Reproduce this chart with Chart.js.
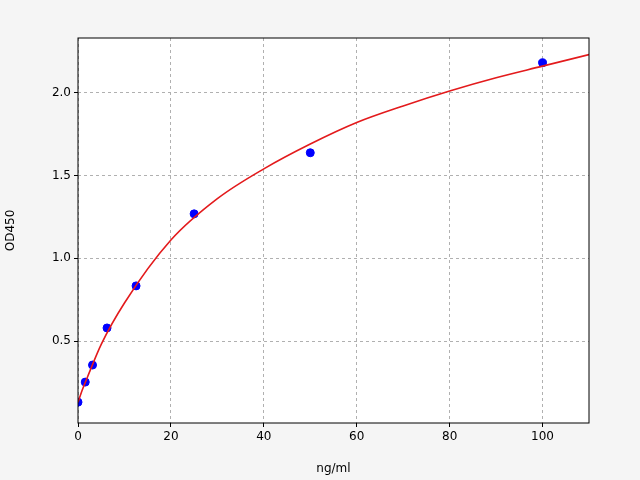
<!DOCTYPE html>
<html>
<head>
<meta charset="utf-8">
<style>
  *{margin:0;padding:0}
  html,body{width:640px;height:480px;background:#f5f5f5}
</style>
</head>
<body>
<canvas id="chart" width="640" height="480"></canvas>
<script src="https://cdn.jsdelivr.net/npm/chart.js@4/dist/chart.umd.min.js"></script>
<script>
// measured standards
const concX = [0, 1.56, 3.125, 6.25, 12.5, 25, 50, 100];
const odY = [0.131, 0.252, 0.355, 0.579, 0.833, 1.268, 1.637, 2.18];
// fitted curve
const curveX = [0, 1, 2, 5, 10, 20, 30, 40, 50, 60, 70, 80, 90, 100, 110];
const curveY = [0.13, 0.21, 0.28, 0.48, 0.73, 1.11, 1.36, 1.54, 1.69, 1.82, 1.92, 2.01, 2.09, 2.16, 2.23];
const xTicks = [0, 20, 40, 60, 80, 100];
const yTicks = [0.5, 1.0, 1.5, 2.0];

const toXY = (xs, ys) => xs.map((x, i) => ({ x, y: ys[i] }));

const plotBg = {
  id: "plotBg",
  beforeDraw(c) {
    const { ctx, chartArea: a } = c;
    ctx.save();
    ctx.fillStyle = "#f5f5f5";
    ctx.fillRect(0, 0, c.width, c.height);
    ctx.fillStyle = "#ffffff";
    ctx.fillRect(a.left, a.top, a.right - a.left, a.bottom - a.top);
    ctx.restore();
  },
  afterDraw(c) {
    const { ctx, chartArea: a } = c;
    ctx.save();
    ctx.strokeStyle = "#000";
    ctx.lineWidth = 1;
    ctx.strokeRect(a.left, a.top, a.right - a.left, a.bottom - a.top);
    ctx.restore();
  }
};

const grid = { color: "#b0b0b0", tickColor: "#000", tickLength: 4, drawTicks: true };
const border = { display: false, dash: [3, 3] };
const font = { family: "'DejaVu Sans', sans-serif", size: 12 };

new Chart(document.getElementById("chart"), {
  type: "scatter",
  data: {
    datasets: [
      {
        type: "line",
        data: toXY(curveX, curveY),
        borderColor: "#e31a1c",
        borderWidth: 1.6,
        pointRadius: 0,
        cubicInterpolationMode: "monotone",
        fill: false
      },
      {
        data: toXY(concX, odY),
        backgroundColor: "#0000ff",
        borderColor: "#0000ff",
        pointRadius: 4
      }
    ]
  },
  options: {
    responsive: false,
    animation: false,
    devicePixelRatio: 1,
    layout: { padding: { top: 38, right: 51, left: 0, bottom: 0 } },
    plugins: { legend: { display: false }, tooltip: { enabled: false } },
    scales: {
      x: {
        type: "linear", min: 0, max: 110,
        afterBuildTicks: s => { s.ticks = xTicks.map(v => ({ value: v })); },
        afterFit: s => { s.height = 57; },
        ticks: { color: "#000", font, callback: v => String(v) },
        grid, border,
        title: { display: true, text: "ng/ml", color: "#000", font, padding: { top: 2 } }
      },
      y: {
        type: "linear", min: 0.005, max: 2.33,
        afterBuildTicks: s => { s.ticks = yTicks.map(v => ({ value: v })); },
        afterFit: s => { s.width = 78; },
        ticks: { color: "#000", font, callback: v => v.toFixed(1) },
        grid, border,
        title: { display: true, text: "OD450", color: "#000", font, padding: { bottom: 4 } }
      }
    }
  },
  plugins: [plotBg]
});
</script>
</body>
</html>
